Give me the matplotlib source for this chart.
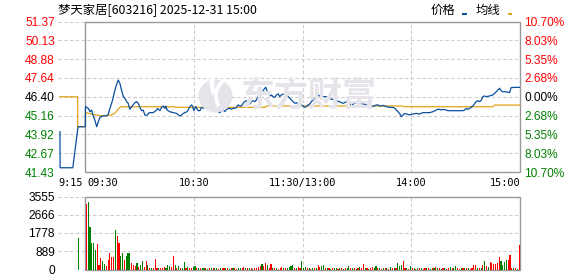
import matplotlib
matplotlib.use("Agg")
import matplotlib.pyplot as plt
from matplotlib.patches import Rectangle, Ellipse, Arc
from matplotlib.transforms import blended_transform_factory, Affine2D

# ---------------- data ----------------
title = "梦天家居[603216] 2025-12-31 15:00"
prev_close = 46.40
price_levels = [51.37, 50.13, 48.88, 47.64, 46.40, 45.16, 43.92, 42.67, 41.43]
pct_labels = ["10.70%", "8.03%", "5.35%", "2.68%", "0.00%", "2.68%", "5.35%", "8.03%", "10.70%"]
vol_levels = [0, 889, 1778, 2666, 3555]
time_labels = ["9:15", "09:30", "10:30", "11:30/13:00", "14:00", "15:00"]
time_pos = [-15, 0, 60, 120, 180, 240]

# minutes from 09:30 (negative = pre-market auction)
price_min = [-14.1, -14.0, -7.0, -4.1, -0.05,
             0, 1.6, 2.5, 3.4, 4.3, 5.2, 6.2, 7.1, 8.0, 9.8, 11.7, 12.6, 13.5, 15, 15.9,
             16.8, 18.1, 19, 19.9, 20.9, 21.8, 22.7, 23.6, 24.5, 25.5, 27.3, 28.2, 29.1,
             30.1, 31, 31.9, 32.8, 34.1, 35.2, 37.4, 39.3, 39.8, 41.1, 42, 42.9, 43.9,
             44.4, 45.1, 46.6, 48.5, 50.3, 52.1, 53.1, 54, 54.9, 56.2, 57.7, 58.6, 59.1,
             59.9, 60.4, 61, 61.7, 62.3, 63.2, 64.1, 65, 65.9, 66.9, 67.8, 68.7, 69.6,
             70.5, 71.5, 72.4, 73.3, 74.2, 75.1, 76, 77, 77.9, 78.8, 79.7, 80.6, 81.6,
             82.5, 83.4, 84.3, 85.2, 86.2, 87.1, 88, 88.9, 89.8, 90.8, 91.7, 92.6, 93.5,
             94.4, 95.4, 96.3, 97.2, 98.1, 99, 99.6, 100.3, 100.9, 101.4, 102.2, 102.7,
             103.6, 104.6, 105.5, 106.4, 107.3, 108.2, 109.2, 110.1, 111, 111.9, 112.8,
             113.8, 114.7, 115.6, 116.5, 117.4, 118.4, 119.3, 120.2, 121.1, 122, 122.9,
             123.9, 124.8, 125.7, 126.6, 127.5, 128.5, 129.4, 130.3, 131.2, 133.1, 134,
             134.9, 135.8, 136.7, 137.7, 138.6, 139.5, 140.4, 141.3, 142.3, 143.2, 144.1,
             145, 145.9, 146.9, 147.8, 148.7, 149.6, 150.5, 151.5, 152.4, 153.3, 154.2,
             155.1, 156.1, 157, 157.9, 158.8, 159.7, 160.6, 161.6, 162.5, 163.4, 164.3,
             166.2, 168, 169.8, 170.8, 171.7, 172.6, 173.5, 174.4, 175.4, 176.3, 177.2,
             178.1, 179, 180, 181, 182.7, 184.5, 186.4, 188, 190.1, 191.9, 193.7, 194.6,
             195.6, 196.5, 197.4, 198.3, 199.3, 200.2, 203, 206, 208.5, 209.4, 210.3,
             211.2, 212.1, 213, 214, 215.8, 216.7, 217.6, 218.5, 219.5, 220.4, 221.3,
             223.2, 225, 226.9, 227.8, 228.7, 229.6, 230.5, 232.4, 234.2, 235.1, 237, 240]
price_val = [44.09, 41.71, 41.71, 44.42, 44.42,
             45.75, 45.63, 45.41, 45.52, 45.13, 44.86, 44.42, 44.75, 45.04, 45.13, 45.15, 45.24, 45.63, 46.18, 46.67,
             47.06, 47.50, 47.29, 46.85, 46.41, 46.30, 46.08, 45.97, 45.57, 45.74, 46.01, 46.08, 45.97,
             45.70, 45.48, 45.52, 45.19, 45.19, 45.35, 45.35, 45.52, 45.63, 45.48, 45.70, 45.79, 45.63,
             45.79, 45.52, 45.41, 45.35, 45.30, 45.13, 45.19, 45.30, 45.35, 45.42, 45.75, 45.86, 45.79,
             45.48, 45.64, 45.75, 45.57, 45.48, 45.48, 45.70, 45.64, 45.70, 45.75, 45.70, 45.70, 45.64,
             45.57, 45.57, 45.48, 45.42, 45.35, 45.48, 45.53, 45.42, 45.57, 45.61, 45.64, 45.57, 45.64,
             45.64, 45.70, 45.86, 45.79, 45.79, 45.97, 46.08, 46.14, 45.97, 45.92, 46.08, 46.14, 46.08,
             46.19, 46.41, 46.52, 46.63, 46.80, 46.96, 47.02, 46.80, 46.58, 46.63, 46.45, 46.52,
             46.41, 46.36, 46.52, 46.58, 46.41, 46.52, 46.58, 46.52, 46.58, 46.41, 46.30,
             46.19, 46.08, 45.97, 46.01, 45.92, 45.97, 45.86, 45.79, 45.70, 45.75, 45.86,
             45.92, 46.08, 46.19, 46.30, 46.36, 46.52, 46.45, 46.41, 46.41, 46.41, 46.36,
             46.30, 46.23, 46.23, 46.14, 46.19, 46.08, 46.08, 46.01, 45.97, 46.01, 46.08,
             46.01, 45.97, 45.75, 45.92, 45.97, 46.01, 45.97, 45.92, 45.97, 45.92, 45.92,
             45.86, 45.79, 45.70, 45.75, 45.79, 45.79, 45.86, 45.86, 45.79, 45.79, 45.83,
             45.75, 45.70, 45.70, 45.64, 45.53, 45.42, 45.30, 45.08, 45.19, 45.30, 45.26,
             45.24, 45.19, 45.24, 45.26, 45.30, 45.26, 45.35, 45.35, 45.35, 45.41, 45.52, 45.57,
             45.57, 45.52, 45.57, 45.55, 45.52, 45.48, 45.48, 45.48, 45.48, 45.52, 45.63,
             45.57, 45.63, 45.70, 45.79, 46.08, 46.14, 46.08, 46.14, 46.41, 46.45, 46.41,
             46.45, 46.52, 46.73, 46.85, 46.96, 46.80, 46.73, 46.73, 46.67, 47.00, 47.02, 47.02]

avg_min = [-14.1, -4.3, -4.3, -0.05, 0, 2, 4, 6, 8, 12, 14, 16, 17, 18, 19, 20, 49, 50, 99, 100,
           175, 176, 225, 226, 240]
avg_val = [46.40, 46.40, 44.42, 44.42, 45.35, 45.30, 45.24, 45.19, 45.15, 45.15, 45.19, 45.30,
           45.41, 45.57, 45.70, 45.74, 45.74, 45.70, 45.70, 45.79, 45.79, 45.74, 45.74, 45.85, 45.85]

pre_vol_min = [-4]
pre_vol = [1530]
pre_vol_dir = "g"

volumes = [3180, 3310, 2070, 1280, 1280, 970, 1240, 210, 570, 400,
           280, 180, 450, 810, 610, 610, 1920, 1620, 1290, 650,
           790, 450, 650, 790, 790, 320, 210, 160, 320, 130,
           210, 400, 110, 400, 210, 80, 80, 50, 500, 80,
           60, 80, 50, 110, 80, 240, 160, 110, 650, 240,
           80, 160, 80, 60, 360, 80, 110, 80, 80, 110,
           160, 80, 50, 60, 50, 60, 50, 40, 60, 50,
           60, 50, 60, 40, 50, 60, 50, 60, 50, 40,
           50, 60, 50, 40, 60, 50, 60, 110, 50, 60,
           50, 60, 40, 50, 60, 110, 160, 275, 160, 310,
           210, 60, 275, 50, 60, 50, 40, 60, 110, 50,
           60, 50, 110, 160, 210, 50, 60, 110, 60, 400,
           60, 110, 50, 60, 40, 50, 60, 50, 210, 110,
           160, 210, 60, 50, 60, 40, 50, 60, 50, 40,
           50, 60, 40, 50, 60, 160, 50, 60, 50, 40,
           60, 110, 60, 275, 50, 60, 40, 50, 110, 50,
           160, 50, 60, 40, 50, 60, 50, 40, 110, 50,
           60, 50, 300, 160, 210, 400, 60, 50, 40, 160,
           60, 50, 40, 60, 50, 60, 40, 50, 60, 50,
           40, 60, 50, 110, 60, 50, 40, 60, 50, 40,
           60, 110, 50, 60, 160, 50, 40, 60, 50, 60,
           50, 60, 40, 60, 210, 240, 60, 50, 60, 210,
           400, 160, 110, 355, 320, 275, 275, 320, 600, 400,
           240, 355, 485, 450, 700, 80, 60, 60, 40, 1180]
vol_dir = ("rggggg" "rrrg" "grrrrrgrrg" "grgggrrrgr" "ggrrgrgrrr" "grrrggg" "rrg"
           "rgrggrgrrg" "grgrggrgrg" "rggrgrrgrg" "rgrrggrrgr" "grgrrrrgrr"
           "grrgrgrrrg" "rggggrgrrg" "ggrgrgrgrr" "ggrgrgrggr" "grgrggrgrg"
           "rgrrgrgrrg" "grgrgrgrgr" "grgggrrgrg" "rgrgrgrrgr" "grgrgrgrgr"
           "rgrggrrgrg" "rgrrrrgrgr" "grgrrrrrrg" "gggrrrgrgr")

# ---------------- style ----------------
RED, GREEN, BLACK = "#ff0000", "#008000", "#000000"
BLUE, ORANGE = "#0b4f9f", "#e3a21a"
FRAME, GRID = "#999999", "#cccccc"
WM = "#e4e4ea"
W, H = 578, 276
XL, XR = 58.3, 520.0

fig = plt.figure(figsize=(W / 100, H / 100), dpi=100)
fig.patch.set_facecolor("white")

def fx(px):
    return px / W

def fy(py):
    return 1 - py / H

VB = 269.5
ax = fig.add_axes([fx(XL), fy(172), fx(XR - XL), (172 - 21.5) / H])
axv = fig.add_axes([fx(XL), fy(VB), fx(XR - XL), (VB - 196.5) / H])

num_font = "Liberation Sans"
cjk = ["Noto Sans CJK SC", "DejaVu Sans"]

for a in (ax, axv):
    for s in a.spines.values():
        s.set_visible(False)
    a.set_xlim(-15, 240)
    a.set_xticks([])
    a.tick_params(axis="y", length=0, pad=2.4)

dash = (0, (3, 2.2))

# ---- watermark (drawn in pixel coordinates from top-left) ----
pix = Affine2D().scale(1, -1).translate(0, H)
fig.patches.append(Ellipse((215.5, 96), 34, 33, transform=pix, facecolor=WM,
                           edgecolor="none", zorder=0))
for (cx, cy, w, h, t1, t2, lw) in [(232, 84, 40, 44, 150, 250, 3.2),
                                   (236, 96, 40, 40, 150, 235, 2.6),
                                   (206, 118, 30, 30, 10, 80, 2.0)]:
    fig.patches.append(Arc((cx, cy), w, h, theta1=t1, theta2=t2, transform=pix,
                           color="white", linewidth=lw, zorder=0.1))
fig.text(fx(308.5), fy(96.5), "东方财富", family=cjk, fontsize=24.5, fontweight="bold",
         color=WM, ha="center", va="center", zorder=0.2)
ax.patch.set_alpha(0)

# ---- price panel ----
ylo, yhi = price_levels[-1], price_levels[0]
ax.set_ylim(ylo, yhi)
ax.hlines(price_levels, -15, 240, colors=GRID, linestyles=[dash], linewidth=0.8, zorder=1)
ax.vlines([60, 120, 180], ylo, yhi, colors=GRID, linestyles=[dash], linewidth=0.8, zorder=1)
ax.add_patch(Rectangle((0, ylo), 240, yhi - ylo, fill=False, edgecolor=FRAME,
                       linewidth=1.0, zorder=2, clip_on=False))

ax.plot(avg_min, avg_val, color=ORANGE, linewidth=0.9, zorder=3)
ax.plot(price_min, price_val, color=BLUE, linewidth=0.9, zorder=4)

ax.set_yticks(price_levels)
ax.set_yticklabels([f"{v:.2f}" for v in price_levels], fontsize=8.6, family=num_font)
for lbl, v in zip(ax.get_yticklabels(), price_levels):
    lbl.set_color(RED if v > prev_close + 1e-9 else (GREEN if v < prev_close - 1e-9 else BLACK))

axr = ax.twinx()
for s in axr.spines.values():
    s.set_visible(False)
axr.patch.set_alpha(0)
axr.set_ylim(ylo, yhi)
axr.set_yticks(price_levels)
axr.set_yticklabels(pct_labels, fontsize=8.6, family=num_font)
axr.tick_params(axis="y", length=0, pad=3.0)
for lbl, v in zip(axr.get_yticklabels(), price_levels):
    lbl.set_color(RED if v > prev_close + 1e-9 else (GREEN if v < prev_close - 1e-9 else BLACK))

trans = blended_transform_factory(ax.transData, ax.transAxes)
has = ["left", "left", "center", "center", "center", "right"]
offs = [0, 1.1, 0, 0, 0, 0]
for t, p, h, o in zip(time_labels, time_pos, has, offs):
    ax.text(p + o, -0.073, t, transform=trans, ha=h, va="center",
            family="DejaVu Sans Mono", fontsize=7.4, color=BLACK)

# ---- volume panel ----
vmax = vol_levels[-1]
axv.set_ylim(0, vmax)
axv.hlines(vol_levels, -15, 240, colors=GRID, linestyles=[dash], linewidth=0.8, zorder=1)
axv.vlines([60, 120, 180], 0, vmax, colors=GRID, linestyles=[dash], linewidth=0.8, zorder=1)
axv.add_patch(Rectangle((0, 0), 240, vmax, fill=False, edgecolor=FRAME,
                        linewidth=1.0, zorder=2, clip_on=False))
minutes = list(range(len(volumes)))
bar_colors = [RED if c == "r" else GREEN for c in vol_dir]
axv.bar([m + 0.5 for m in minutes], volumes, width=0.62, color=bar_colors,
        linewidth=0, zorder=3)
axv.bar(pre_vol_min, pre_vol, width=0.62,
        color=[GREEN if pre_vol_dir == "g" else RED], linewidth=0, zorder=3)
axv.set_yticks(vol_levels)
axv.set_yticklabels([str(v) for v in vol_levels], fontsize=8.6, family=num_font, color=BLACK)

# ---- title & legend ----
fig.text(fx(58), fy(10.5), title, family=cjk, fontsize=8.9, color=BLACK,
         ha="left", va="center")
fig.text(fx(431), fy(10.5), "价格", family=cjk, fontsize=8.9, color=BLACK,
         ha="left", va="center")
fig.text(fx(476), fy(10.5), "均线", family=cjk, fontsize=8.9, color=BLACK,
         ha="left", va="center")
fig.patches.append(Rectangle((fx(462.3), fy(15.3)), fx(4.6), 2.8 / H, transform=fig.transFigure,
                             facecolor=BLUE, edgecolor="none"))
fig.patches.append(Rectangle((fx(507.7), fy(15.3)), fx(4.6), 2.8 / H, transform=fig.transFigure,
                             facecolor=ORANGE, edgecolor="none"))

fig.savefig("out.png", dpi=100, facecolor="white")
